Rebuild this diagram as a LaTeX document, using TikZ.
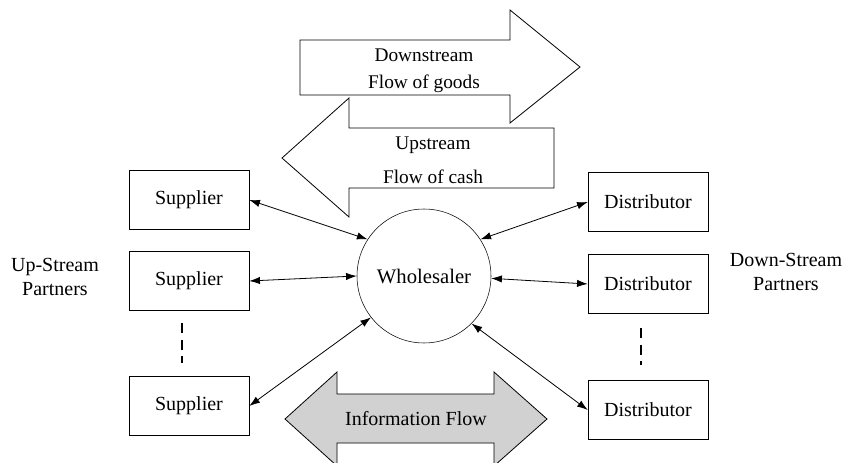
\documentclass[tikz,border=0pt]{standalone}
\usepackage{fontspec}
\setmainfont{Liberation Serif}
\usetikzlibrary{arrows,arrows.meta,shapes,positioning,calc}

\begin{document}
\begin{tikzpicture}[x=0.75pt,y=-0.75pt,
  partner/.style={draw, rectangle, minimum width=90pt, minimum height=44pt, font=\fontsize{15}{18}\selectfont},
  flowtext/.style={font=\fontsize{14.5}{17}\selectfont},
  link/.style={{Latex[length=8pt,width=5.5pt]}-{Latex[length=8pt,width=5.5pt]}, line width=0.6pt}]
\clip (0,0) rectangle (843,463);

% big flow arrows
\draw[line width=0.6pt] (282,158)--(349,98)--(349,128)--(554,128)--(554,188)--(349,188)--(349,217)--cycle;
\draw[line width=0.6pt] (300,40)--(510,40)--(510,10)--(580,67)--(510,123)--(510,95)--(300,95)--cycle;
\draw[line width=0.6pt, fill=black!18] (285,419)--(337,372)--(337,394)--(494,394)--(494,372)--(547,419)--(494,466)--(494,443)--(337,443)--(337,466)--cycle;

\node[flowtext] (dn) at (424,55) {Downstream};
\node[flowtext] (dg) at (424,84) {Flow of goods};
\node[flowtext] (up) at (433,145) {Upstream};
\node[flowtext] (uc) at (433,177) {Flow of cash};
\node[flowtext, font=\fontsize{15}{18}\selectfont] (inf) at (416,419) {Information Flow};

\node[draw, circle, minimum size=100.5pt, font=\fontsize{15.5}{18}\selectfont] (w) at (424,276) {Wholesaler};

\node[partner] (s1) at (189,200) {Supplier};
\node[partner] (s2) at (189,281) {Supplier};
\node[partner] (s3) at (189,406) {Supplier};
\node[partner] (d1) at (648,202) {Distributor};
\node[partner] (d2) at (648,284) {Distributor};
\node[partner] (d3) at (648,410) {Distributor};

\node[align=center, font=\fontsize{15}{17.5}\selectfont] (usp) at (55,277) {Up-Stream\\Partners};
\node[align=center, font=\fontsize{15}{17.5}\selectfont] (dsp) at (786,272) {Down-Stream\\Partners};

\coordinate (sa) at (182,323);
\coordinate (sb) at (182,363);
\coordinate (da) at (641,328);
\coordinate (db) at (641,365);
\draw[dashed, dash pattern=on 7.5pt off 5pt, line width=1pt] (sa)--(sb);
\draw[dashed, dash pattern=on 7.5pt off 5pt, line width=1pt] (da)--(db);

\draw[link] (s1.east)--(w.147);
\draw[link] (s2.east)--(w.180);
\draw[link] (s3.east)--(w.218);
\draw[link] (w.33)--(d1.west);
\draw[link] (w.358)--(d2.west);
\draw[link] (w.315)--(d3.west);
\end{tikzpicture}
\end{document}
